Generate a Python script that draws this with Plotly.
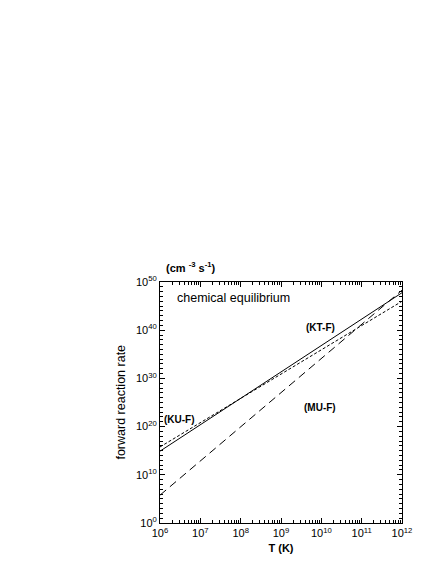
import plotly.graph_objects as go

# temperature grid (K) and forward reaction rates (cm^-3 s^-1)
T_K = [1e6, 1e7, 1e8, 1e9, 1e10, 1e11, 1e12]
rate_kt = [8e14, 2.4e20, 7e25, 2e31, 6e36, 1.8e42, 6e47]            # solid
rate_ku = [6e15, 7e20, 6e25, 7e30, 8e35, 9e40, 1e46]                # short dash
rate_mu = [6e5, 7e12, 8e19, 1e27, 1.2e34, 1.5e41, 2e48]             # long dash

x_ticks = [1e6, 1e7, 1e8, 1e9, 1e10, 1e11, 1e12]
x_ticktext = ["10<sup>6</sup>", "10<sup>7</sup>", "10<sup>8</sup>", "10<sup>9</sup>",
              "10<sup>10</sup>", "10<sup>11</sup>", "10<sup>12</sup>"]
y_ticks = [1e0, 1e10, 1e20, 1e30, 1e40, 1e50]
y_ticktext = ["10<sup>0</sup>", "10<sup>10</sup>", "10<sup>20</sup>", "10<sup>30</sup>",
              "10<sup>40</sup>", "10<sup>50</sup>"]

FONT = "Liberation Sans, Arial, sans-serif"

fig = go.Figure()

for y, dash in [(rate_kt, "solid"), (rate_ku, "3px,2px"), (rate_mu, "8px,5px")]:
    fig.add_trace(go.Scatter(
        x=T_K, y=y, mode="lines",
        line=dict(color="black", width=1, dash=dash),
        showlegend=False,
    ))

# curve labels (positions in log10 axis units)
for x, y, txt, anchor in [(9.97, 40.6, "(KT-F)", "center"),
                           (6.05, 21.4, "(KU-F)", "left"),
                           (9.97, 24.0, "(MU-F)", "center")]:
    fig.add_annotation(x=x, y=y, xref="x", yref="y", text=f"<b>{txt}</b>",
                       showarrow=False, xanchor=anchor,
                       font=dict(family=FONT, size=10, color="black"))

fig.add_annotation(x=6.38, y=46.6, xref="x", yref="y", text="chemical equilibrium",
                   showarrow=False, xanchor="left",
                   font=dict(family=FONT, size=12.5, color="black"))

fig.add_annotation(x=0.015, y=1.0, xref="paper", yref="paper", yanchor="bottom", xanchor="left",
                   yshift=6, showarrow=False,
                   text="<b>(cm <sup>-3</sup> s<sup>-1</sup>)</b>",
                   font=dict(family=FONT, size=11, color="black"))

fig.add_annotation(x=-0.165, y=0.5, xref="paper", yref="paper", textangle=-90,
                   xanchor="center", yanchor="middle",
                   showarrow=False, text="forward reaction rate",
                   font=dict(family=FONT, size=12.5, color="black"))

axis_common = dict(
    type="log",
    showgrid=False, zeroline=False,
    showline=True, linecolor="black", linewidth=1,
    mirror="allticks", ticks="inside", ticklen=5, tickcolor="black",
    tickfont=dict(family=FONT, size=11, color="black"),
)

fig.update_layout(
    width=436, height=564,
    paper_bgcolor="white", plot_bgcolor="white",
    margin=dict(l=152, r=42, t=274, b=49),
    xaxis=dict(
        **axis_common,
        range=[6, 12], tickvals=x_ticks, ticktext=x_ticktext,
        minor=dict(ticks="inside", ticklen=3, dtick="D1", tickcolor="black", showgrid=False),
        title=dict(text="<b>T (K)</b>", font=dict(family=FONT, size=11, color="black"), standoff=6),
    ),
    yaxis=dict(
        **axis_common,
        range=[0, 50], tickvals=y_ticks, ticktext=y_ticktext,
        minor=dict(ticks="inside", ticklen=3, dtick=1, tickcolor="black", showgrid=False),
    ),
)

fig.write_html("out.html")
